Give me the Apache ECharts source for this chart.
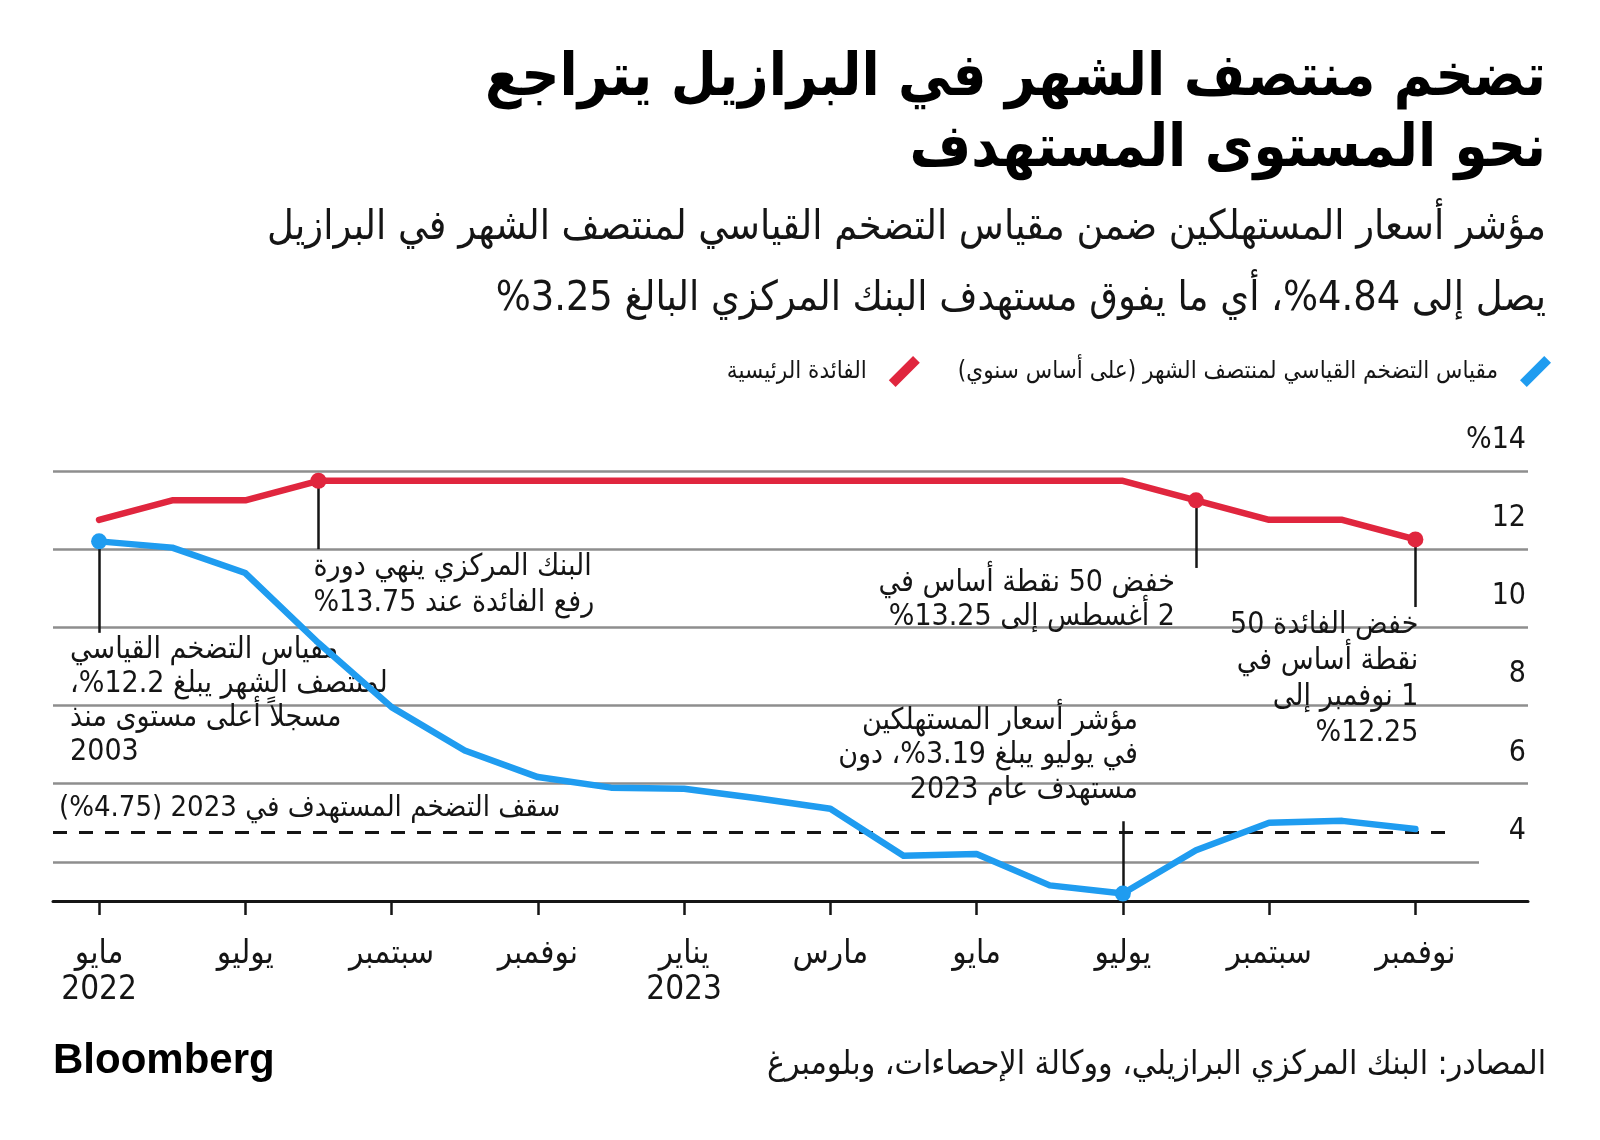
<!DOCTYPE html>
<html><head><meta charset="utf-8">
<script src="https://cdn.jsdelivr.net/npm/echarts@6/dist/echarts.min.js"></script>
<style>html,body{margin:0;padding:0;background:#fff}#c{width:1600px;height:1140px}</style>
</head><body>
<div id="c" dir="rtl"></div>
<script>
// ---------- data ----------
const months = ['مايو','يونيو','يوليو','أغسطس','سبتمبر','أكتوبر','نوفمبر','ديسمبر','يناير','فبراير','مارس','أبريل','مايو','يونيو','يوليو','أغسطس','سبتمبر','أكتوبر','نوفمبر'];
const ipca15 = [12.2, 12.04, 11.39, 9.6, 7.96, 6.85, 6.17, 5.9, 5.87, 5.63, 5.36, 4.16, 4.2, 3.4, 3.19, 4.3, 5.0, 5.05, 4.84];
const selic  = [12.75, 13.25, 13.25, 13.75, 13.75, 13.75, 13.75, 13.75, 13.75, 13.75, 13.75, 13.75, 13.75, 13.75, 13.75, 13.25, 12.75, 12.75, 12.25];
const tickIdx = [0, 2, 4, 6, 8, 10, 12, 14, 16, 18];
const tickLabels = ['مايو\n2022','يوليو','سبتمبر','نوفمبر','يناير\n2023','مارس','مايو','يوليو','سبتمبر','نوفمبر'];
const yTicks = [4, 6, 8, 10, 12, 14];
const target2023 = 4.75;
const blueName = 'مقياس التضخم القياسي لمنتصف الشهر (على أساس سنوي)';
const redName = 'الفائدة الرئيسية';
const blueMarks = [0, 14];
const redMarks = [3, 15, 18];
const titleLines = ['تضخم منتصف الشهر في البرازيل يتراجع', 'نحو المستوى المستهدف'];
const subtitleLines = ['مؤشر أسعار المستهلكين ضمن مقياس التضخم القياسي لمنتصف الشهر في البرازيل', 'يصل إلى 4.84%، أي ما يفوق مستهدف البنك المركزي البالغ 3.25%'];
const sourceText = 'المصادر: البنك المركزي البرازيلي، ووكالة الإحصاءات، وبلومبرغ';
const targetLabel = 'سقف التضخم المستهدف في 2023 (4.75%)';
const noteBlueMay = 'مقياس التضخم القياسي\nلمنتصف الشهر يبلغ 12.2%،\nمسجلاً أعلى مستوى منذ\n2003';
const noteBlueJul = 'مؤشر أسعار المستهلكين\nفي يوليو يبلغ 3.19%، دون\nمستهدف عام 2023';
const noteRedAug22 = 'البنك المركزي ينهي دورة\nرفع الفائدة عند 13.75%';
const noteRedAug23 = 'خفض 50 نقطة أساس في\n2 أغسطس إلى 13.25%';
const noteRedNov23 = 'خفض الفائدة 50\nنقطة أساس في\n1 نوفمبر إلى\n%12.25';

// ---------- layout / style ----------
const FONT = '"DejaVu Sans Condensed", "DejaVu Sans", sans-serif';
const BLUE = '#1f9cf0', RED = '#e0263e', INK = '#151515', GRID = '#8e8e8e';
const X_MIN = -0.63, X_MAX = 19.54;
const grid4End = 18.87;

const noteLabel = (text, align, vAlign, pos, lh) => ({
  show: true, formatter: text, position: pos, align: align, verticalAlign: vAlign,
  fontSize: 30, lineHeight: lh, color: INK, fontFamily: FONT
});
const vLine = (i, v1, v2) => [{coord: [i, v1]}, {coord: [i, v2]}];

const chart = echarts.init(document.getElementById('c'), null, {renderer: 'canvas'});
const option = {
  animation: false,
  backgroundColor: '#fff',
  grid: {left: 53, right: 72, top: 471, bottom: 239},
  legend: {
    right: 44, top: 351, itemWidth: 31, itemHeight: 31, itemGap: 38, align: 'right',
    icon: 'path://M0.8,23.8 L23.8,0.8 L30.2,7.2 L7.2,30.2 Z',
    textStyle: {fontSize: 24, color: INK, fontFamily: FONT, padding: [0, 17, 0, 0]},
    data: [redName, blueName]
  },
  xAxis: {
    type: 'value', min: X_MIN, max: X_MAX,
    axisLine: {show: true, onZero: false, lineStyle: {color: INK, width: 3}},
    axisTick: {show: true, customValues: tickIdx, length: 14, lineStyle: {color: INK, width: 2.5}},
    axisLabel: {customValues: tickIdx, formatter: v => tickLabels[tickIdx.indexOf(v)],
      fontSize: 33, lineHeight: 36, color: INK, margin: 35, fontFamily: FONT},
    splitLine: {show: false}
  },
  yAxis: {
    type: 'value', position: 'right', min: 3, max: 14,
    axisLine: {show: false}, axisTick: {show: false}, splitLine: {show: false},
    axisLabel: {inside: true, customValues: yTicks, formatter: v => v === 14 ? '%14' : String(v),
      fontSize: 30, color: INK, verticalAlign: 'bottom', padding: [0, 0, 16, 0], margin: 2,
      align: 'right', fontFamily: FONT}
  },
  graphic: [
    {type: 'text', x: 1546, y: 80, style: {text: titleLines[0], fill: '#000', font: 'bold 59px ' + FONT, textAlign: 'right', textVerticalAlign: 'middle'}},
    {type: 'text', x: 1546, y: 151, style: {text: titleLines[1], fill: '#000', font: 'bold 59px ' + FONT, textAlign: 'right', textVerticalAlign: 'middle'}},
    {type: 'text', x: 1546, y: 228, style: {text: subtitleLines[0], fill: INK, font: '41px ' + FONT, textAlign: 'right', textVerticalAlign: 'middle'}},
    {type: 'text', x: 1546, y: 299, style: {text: subtitleLines[1], fill: INK, font: '41px ' + FONT, textAlign: 'right', textVerticalAlign: 'middle'}},
    {type: 'text', x: 1546, y: 1065, style: {text: sourceText, fill: INK, font: '33.5px ' + FONT, textAlign: 'right', textVerticalAlign: 'middle'}},
    {type: 'text', x: 53, y: 1061, style: {text: 'Bloomberg', fill: '#000', font: 'bold 42px "Liberation Sans", Arial, sans-serif', textAlign: 'left', textVerticalAlign: 'middle'}}
  ],
  series: [
    {
      name: 'gridlines', type: 'line', data: [], z: 1, silent: true,
      markLine: {
        silent: true, symbol: ['none', 'none'], label: {show: false},
        lineStyle: {color: GRID, width: 2.5, type: 'solid'},
        data: yTicks.filter(v => v !== 4).map(v => ({yAxis: v}))
          .concat([[{coord: [X_MIN, 4]}, {coord: [grid4End, 4]}]])
      }
    },
    {
      name: 'target', type: 'line', data: [], z: 2, silent: true,
      markLine: {
        silent: true, symbol: ['none', 'none'],
        lineStyle: {color: INK, width: 3, type: [14, 12]},
        label: {show: true, position: 'insideStartTop', formatter: targetLabel, distance: [6, 10],
          fontSize: 29, color: INK, fontFamily: FONT},
        data: [[{coord: [X_MIN, target2023]}, {coord: [grid4End - 0.35, target2023]}]]
      }
    },
    {
      name: blueName, type: 'line', z: 5, color: BLUE,
      data: ipca15.map((v, i) => [i, v]),
      lineStyle: {width: 6.5, color: BLUE, join: 'round', cap: 'round'},
      itemStyle: {color: BLUE},
      symbol: 'circle', showAllSymbol: true,
      symbolSize: (val, p) => blueMarks.includes(p.dataIndex) ? 16 : 0,
      markLine: {
        silent: true, symbol: ['none', 'none'], label: {show: false},
        lineStyle: {color: INK, width: 2.5, type: 'solid'},
        data: [vLine(0, ipca15[0], 9.86), vLine(14, ipca15[14], 5.04)]
      },
      markPoint: {
        symbol: 'circle', symbolSize: 0, silent: true,
        data: [
          {coord: [0, 9.86], label: noteLabel(noteBlueMay, 'left', 'top', [-29, 0], 34)},
          {coord: [14, 5.04], label: noteLabel(noteBlueJul, 'right', 'bottom', [15, -14], 34.5)}
        ]
      }
    },
    {
      name: redName, type: 'line', z: 5, color: RED,
      data: selic.map((v, i) => [i, v]),
      lineStyle: {width: 6.5, color: RED, join: 'round', cap: 'round'},
      itemStyle: {color: RED},
      symbol: 'circle', showAllSymbol: true,
      symbolSize: (val, p) => redMarks.includes(p.dataIndex) ? 16 : 0,
      markLine: {
        silent: true, symbol: ['none', 'none'], label: {show: false},
        lineStyle: {color: INK, width: 2.5, type: 'solid'},
        data: [vLine(3, selic[3], 12.0), vLine(15, selic[15], 11.52), vLine(18, selic[18], 10.52)]
      },
      markPoint: {
        symbol: 'circle', symbolSize: 0, silent: true,
        data: [
          {coord: [3, 12.0], label: noteLabel(noteRedAug22, 'left', 'top', [-5, 0], 36)},
          {coord: [15, 11.52], label: noteLabel(noteRedAug23, 'right', 'top', [-21, -2], 34)},
          {coord: [18, 10.52], label: noteLabel(noteRedNov23, 'right', 'top', [3, 0], 36)}
        ]
      }
    }
  ]
};
chart.setOption(option);
</script>
</body></html>
